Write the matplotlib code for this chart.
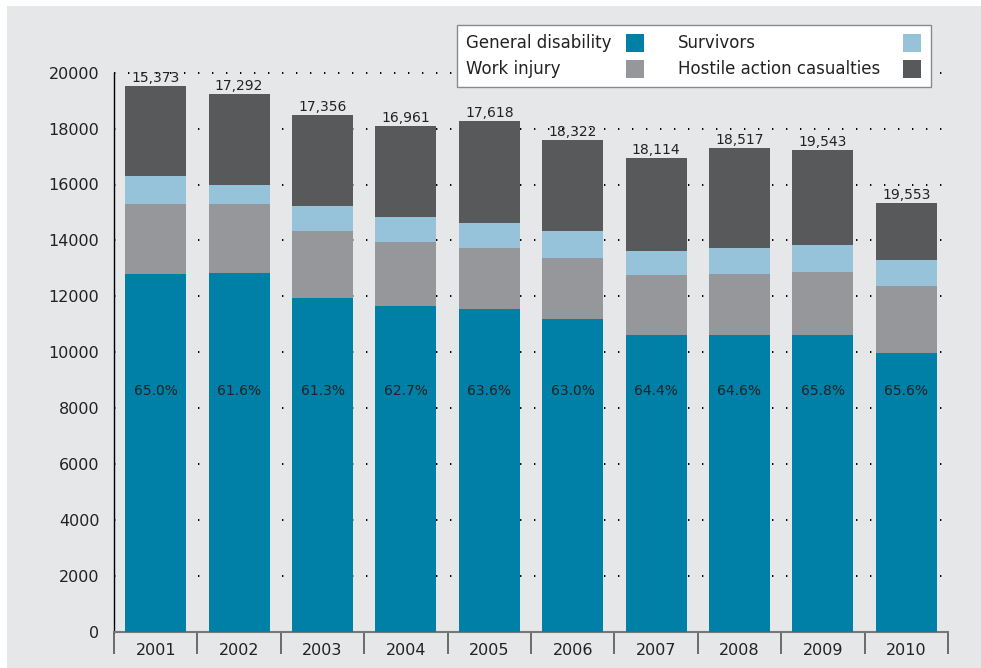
import matplotlib.pyplot as plt
from matplotlib.patches import Rectangle
import numpy as np

# Data
years = ['2001', '2002', '2003', '2004', '2005', '2006', '2007', '2008', '2009', '2010']
general = [12800, 12830, 11940, 11650, 11550, 11190, 10620, 10620, 10620, 9970]
work_injury = [2500, 2470, 2400, 2290, 2180, 2180, 2140, 2180, 2250, 2400]
survivors = [1000, 680, 890, 900, 890, 970, 860, 930, 970, 930]
hostile = [3230, 3260, 3260, 3250, 3650, 3250, 3330, 3580, 3400, 2040]
top_labels = ['15,373', '17,292', '17,356', '16,961', '17,618',
              '18,322', '18,114', '18,517', '19,543', '19,553']
pct_labels = ['65.0%', '61.6%', '61.3%', '62.7%', '63.6%',
              '63.0%', '64.4%', '64.6%', '65.8%', '65.6%']
yticks = [0, 2000, 4000, 6000, 8000, 10000, 12000, 14000, 16000, 18000, 20000]

c_general = '#0080a6'
c_work = '#96979b'
c_surv = '#96c3da'
c_host = '#58595b'
bg = '#e6e7e9'
txt = '#222222'

fig = plt.figure(figsize=(9.81, 6.68), dpi=100, facecolor='white')
# gray panel (thin white strip at top and left)
fig.patches.append(Rectangle((7 / 981, 0), 1, (668 - 6) / 668, transform=fig.transFigure,
                             facecolor=bg, edgecolor='none', zorder=-10))

ax = fig.add_axes([114 / 981, (668 - 631.7) / 668, 834 / 981, 559 / 668])
ax.set_facecolor('none')

x = np.arange(len(years))
w = 0.73
ax.bar(x, general, w, color=c_general, zorder=3)
b1 = np.array(general)
ax.bar(x, work_injury, w, bottom=b1, color=c_work, zorder=3)
b2 = b1 + np.array(work_injury)
ax.bar(x, survivors, w, bottom=b2, color=c_surv, zorder=3)
b3 = b2 + np.array(survivors)
ax.bar(x, hostile, w, bottom=b3, color=c_host, zorder=3)
totals = b3 + np.array(hostile)

# dotted gridlines
for v in yticks[1:]:
    ax.axhline(v, color='black', lw=1.4, linestyle=(0, (0.7, 6.5)), zorder=1, clip_on=False)

for i in range(len(years)):
    ax.annotate(top_labels[i], (x[i], totals[i]), xytext=(0, 3), textcoords='offset points',
                ha='center', va='baseline', fontsize=10, color=txt, annotation_clip=False)
    ax.text(x[i], 8600, pct_labels[i], ha='center', va='center', fontsize=10, color=txt, zorder=4)

ax.set_xlim(-0.5, len(years) - 0.5)
ax.set_ylim(0, 20000)
ax.set_yticks(yticks)
ax.tick_params(axis='y', length=0, pad=10.5, labelsize=11.5, labelcolor=txt)

# category boundary ticks and centered year labels
ax.set_xticks(np.arange(-0.5, len(years), 1.0))
ax.set_xticklabels([])
ax.tick_params(axis='x', which='major', length=16, width=1.2, color='#555555', direction='out')
ax.set_xticks(x, minor=True)
ax.set_xticklabels(years, minor=True)
ax.tick_params(axis='x', which='minor', length=0, pad=8, labelsize=11.5, labelcolor=txt)

for s in ['top', 'right']:
    ax.spines[s].set_visible(False)
ax.spines['left'].set_bounds(0, 20000)
ax.spines['left'].set_linewidth(1.0)
ax.spines['left'].set_color('black')
ax.spines['bottom'].set_color('#777777')
ax.spines['bottom'].set_linewidth(1.5)

# legend box drawn by hand: labels left aligned, swatches right aligned
tr = ax.transAxes
ax.add_patch(Rectangle((0.411, 0.975), 0.9796 - 0.411, 1.0859 - 0.975, transform=tr,
                       facecolor='white', edgecolor='#8a8a8a', lw=1.0, clip_on=False, zorder=5))
leg_items = [('General disability', c_general, 0.4221, 0.6134, 1.0526),
             ('Survivors', c_surv, 0.6758, 0.9456, 1.0526),
             ('Work injury', c_work, 0.4221, 0.6134, 1.0072),
             ('Hostile action casualties', c_host, 0.6758, 0.9456, 1.0072)]
sw = 18 / 834
sh = 18 / 559
for label, col, tx, px, yc in leg_items:
    ax.text(tx, yc, label, transform=tr, ha='left', va='center', fontsize=12, color=txt,
            clip_on=False, zorder=6)
    ax.add_patch(Rectangle((px, yc - sh / 2), sw, sh, transform=tr, facecolor=col,
                           edgecolor='none', clip_on=False, zorder=6))

fig.savefig('out.png', dpi=100, facecolor=fig.get_facecolor())
